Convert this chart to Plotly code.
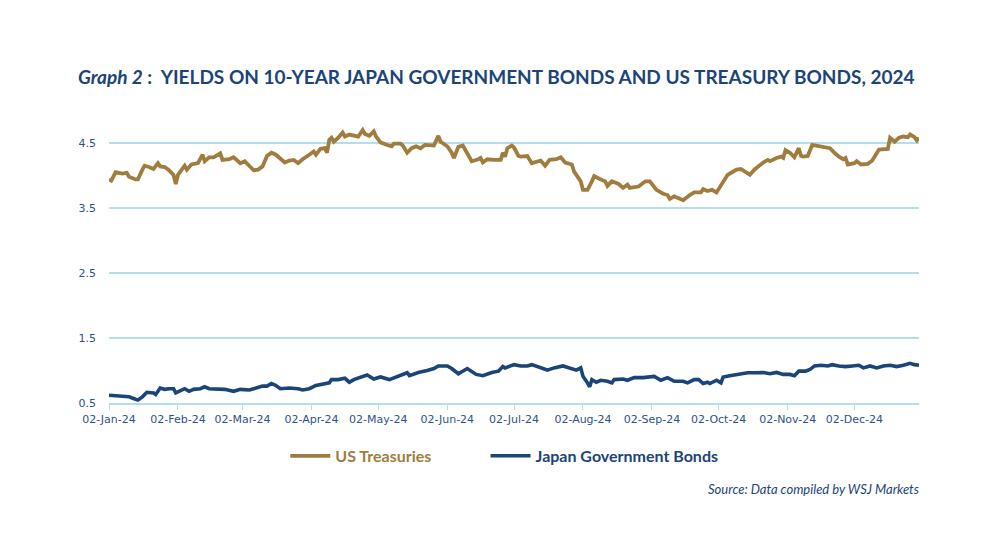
import plotly.graph_objects as go

# ---------------- data ----------------
us_dates = [
    "2024-01-02","2024-01-03","2024-01-05","2024-01-08","2024-01-10","2024-01-11","2024-01-14","2024-01-15",
    "2024-01-17","2024-01-18","2024-01-20","2024-01-22","2024-01-24","2024-01-25","2024-01-27","2024-01-29",
    "2024-01-31","2024-02-01","2024-02-02","2024-02-05","2024-02-06","2024-02-08","2024-02-11","2024-02-13",
    "2024-02-14","2024-02-16","2024-02-18","2024-02-21","2024-02-22","2024-02-25","2024-02-27","2024-03-01",
    "2024-03-03","2024-03-05","2024-03-07","2024-03-09","2024-03-11","2024-03-13","2024-03-15","2024-03-17",
    "2024-03-21","2024-03-23","2024-03-25","2024-03-27","2024-03-29","2024-04-01","2024-04-03","2024-04-04",
    "2024-04-06","2024-04-08","2024-04-09","2024-04-10","2024-04-11","2024-04-12","2024-04-14","2024-04-16",
    "2024-04-17","2024-04-19","2024-04-23","2024-04-25","2024-04-26","2024-04-28","2024-04-30","2024-05-01",
    "2024-05-03","2024-05-06","2024-05-08","2024-05-09","2024-05-12","2024-05-13","2024-05-15","2024-05-17",
    "2024-05-19","2024-05-21","2024-05-23","2024-05-27","2024-05-29","2024-05-30","2024-06-02","2024-06-04",
    "2024-06-05","2024-06-07","2024-06-09","2024-06-10","2024-06-13","2024-06-16","2024-06-17","2024-06-18",
    "2024-06-20","2024-06-23","2024-06-26","2024-06-27","2024-06-28","2024-06-29","2024-07-01","2024-07-02",
    "2024-07-04","2024-07-05","2024-07-08","2024-07-10","2024-07-11","2024-07-14","2024-07-16","2024-07-18",
    "2024-07-21","2024-07-23","2024-07-25","2024-07-28","2024-07-29","2024-08-01","2024-08-02","2024-08-04",
    "2024-08-06","2024-08-07","2024-08-10","2024-08-12","2024-08-13","2024-08-15","2024-08-18","2024-08-20",
    "2024-08-22","2024-08-23","2024-08-27","2024-08-30","2024-09-01","2024-09-04","2024-09-07","2024-09-09",
    "2024-09-10","2024-09-12","2024-09-14","2024-09-16","2024-09-19","2024-09-21","2024-09-24","2024-09-25",
    "2024-09-27","2024-09-29","2024-10-01","2024-10-04","2024-10-06","2024-10-08","2024-10-10","2024-10-12",
    "2024-10-14","2024-10-16","2024-10-18","2024-10-19","2024-10-22","2024-10-24","2024-10-25","2024-10-28",
    "2024-10-30","2024-10-31","2024-11-01","2024-11-03","2024-11-05","2024-11-07","2024-11-08","2024-11-09",
    "2024-11-11","2024-11-13","2024-11-15","2024-11-18","2024-11-21","2024-11-23","2024-11-25","2024-11-27",
    "2024-11-28","2024-11-29","2024-12-02","2024-12-03","2024-12-05","2024-12-08","2024-12-10","2024-12-13",
    "2024-12-15","2024-12-17","2024-12-18","2024-12-20","2024-12-22","2024-12-24","2024-12-26","2024-12-27",
    "2024-12-29","2024-12-30","2024-12-31",
]
us_yields = [
    3.94,3.92,4.05,4.03,4.04,3.98,3.94,3.94,
    4.09,4.15,4.13,4.10,4.19,4.14,4.13,4.08,
    4.01,3.87,4.01,4.15,4.09,4.17,4.19,4.32,
    4.22,4.28,4.28,4.34,4.24,4.25,4.28,4.19,
    4.22,4.14,4.08,4.09,4.14,4.30,4.35,4.32,
    4.20,4.23,4.24,4.19,4.25,4.32,4.37,4.32,
    4.41,4.42,4.35,4.55,4.58,4.52,4.58,4.66,
    4.60,4.63,4.60,4.70,4.64,4.61,4.68,4.60,
    4.51,4.47,4.45,4.49,4.49,4.46,4.35,4.42,
    4.45,4.42,4.47,4.46,4.61,4.52,4.45,4.35,
    4.27,4.44,4.46,4.40,4.22,4.25,4.27,4.20,
    4.25,4.24,4.24,4.35,4.29,4.42,4.46,4.43,
    4.30,4.29,4.30,4.19,4.20,4.23,4.15,4.24,
    4.25,4.28,4.20,4.17,4.06,3.91,3.78,3.78,
    3.91,3.99,3.94,3.91,3.84,3.91,3.87,3.81,
    3.86,3.81,3.83,3.91,3.91,3.78,3.72,3.70,
    3.64,3.68,3.65,3.62,3.70,3.74,3.74,3.79,
    3.76,3.78,3.74,3.91,4.01,4.05,4.09,4.10,
    4.06,4.01,4.09,4.12,4.20,4.24,4.22,4.27,
    4.29,4.27,4.39,4.35,4.28,4.42,4.30,4.29,
    4.30,4.47,4.46,4.44,4.42,4.35,4.29,4.25,
    4.27,4.17,4.19,4.22,4.17,4.18,4.23,4.40,
    4.41,4.41,4.58,4.52,4.58,4.60,4.59,4.63,
    4.59,4.54,4.58,
]

jgb_dates = [
    "2024-01-02","2024-01-04","2024-01-08","2024-01-11","2024-01-13","2024-01-15","2024-01-17","2024-01-19",
    "2024-01-22","2024-01-23","2024-01-25","2024-01-27","2024-01-29","2024-01-31","2024-02-01","2024-02-03",
    "2024-02-05","2024-02-07","2024-02-09","2024-02-12","2024-02-14","2024-02-16","2024-02-20","2024-02-23",
    "2024-02-27","2024-03-01","2024-03-05","2024-03-08","2024-03-11","2024-03-13","2024-03-15","2024-03-17",
    "2024-03-19","2024-03-23","2024-03-27","2024-03-29","2024-04-01","2024-04-04","2024-04-07","2024-04-10",
    "2024-04-11","2024-04-14","2024-04-17","2024-04-19","2024-04-21","2024-04-24","2024-04-27","2024-04-30",
    "2024-05-03","2024-05-07","2024-05-11","2024-05-15","2024-05-16","2024-05-20","2024-05-24","2024-05-27",
    "2024-05-29","2024-06-02","2024-06-04","2024-06-07","2024-06-11","2024-06-15","2024-06-18","2024-06-20",
    "2024-06-22","2024-06-25","2024-06-27","2024-06-28","2024-07-02","2024-07-05","2024-07-08","2024-07-10",
    "2024-07-12","2024-07-15","2024-07-17","2024-07-20","2024-07-24","2024-07-27","2024-07-30","2024-08-01",
    "2024-08-02","2024-08-04","2024-08-05","2024-08-06","2024-08-08","2024-08-10","2024-08-13","2024-08-15",
    "2024-08-16","2024-08-20","2024-08-22","2024-08-25","2024-08-29","2024-09-03","2024-09-06","2024-09-09",
    "2024-09-12","2024-09-16","2024-09-18","2024-09-21","2024-09-23","2024-09-25","2024-09-27","2024-09-28",
    "2024-10-01","2024-10-03","2024-10-04","2024-10-07","2024-10-10","2024-10-12","2024-10-15","2024-10-18",
    "2024-10-22","2024-10-25","2024-10-28","2024-10-31","2024-11-03","2024-11-05","2024-11-07","2024-11-10",
    "2024-11-12","2024-11-14","2024-11-17","2024-11-20","2024-11-22","2024-11-25","2024-11-28","2024-12-01",
    "2024-12-04","2024-12-06","2024-12-09","2024-12-12","2024-12-15","2024-12-18","2024-12-21","2024-12-24",
    "2024-12-27","2024-12-29","2024-12-31",
]
jgb_yields = [
    0.62,0.615,0.595,0.595,0.57,0.545,0.595,0.665,
    0.655,0.63,0.73,0.71,0.72,0.72,0.655,0.69,
    0.72,0.68,0.71,0.72,0.75,0.72,0.72,0.71,
    0.68,0.71,0.70,0.73,0.76,0.76,0.80,0.77,
    0.72,0.73,0.72,0.70,0.72,0.77,0.785,0.81,
    0.86,0.86,0.88,0.82,0.86,0.89,0.93,0.87,
    0.90,0.86,0.92,0.965,0.92,0.97,1.00,1.03,
    1.07,1.07,1.03,0.95,1.03,0.94,0.92,0.95,
    0.97,0.99,1.06,1.04,1.09,1.07,1.07,1.09,
    1.06,1.03,1.005,1.04,1.07,1.04,1.005,1.04,
    0.91,0.81,0.75,0.86,0.82,0.85,0.835,0.81,
    0.86,0.87,0.85,0.89,0.89,0.91,0.85,0.89,
    0.835,0.835,0.81,0.86,0.86,0.80,0.82,0.80,
    0.85,0.81,0.90,0.92,0.94,0.95,0.965,0.965,
    0.97,0.95,0.97,0.94,0.94,0.92,0.99,0.99,
    1.015,1.07,1.08,1.07,1.09,1.07,1.06,1.07,
    1.08,1.04,1.07,1.04,1.07,1.08,1.06,1.08,
    1.11,1.09,1.08,
]

series_names = ["US Treasuries", "Japan Government Bonds"]
y_ticks = [0.5, 1.5, 2.5, 3.5, 4.5]
y_tick_labels = ["0.5", "1.5", "2.5", "3.5", "4.5"]
x_ticks = ["2024-01-02","2024-02-02","2024-03-02","2024-04-02","2024-05-02","2024-06-02",
           "2024-07-02","2024-08-02","2024-09-02","2024-10-02","2024-11-02","2024-12-02"]
x_tick_labels = ["02-Jan-24","02-Feb-24","02-Mar-24","02-Apr-24","02-May-24","02-Jun-24",
                 "02-Jul-24","02-Aug-24","02-Sep-24","02-Oct-24","02-Nov-24","02-Dec-24"]

# ---------------- style ----------------
GOLD = "#a07d3f"
NAVY = "#1b4478"
GRID = "#b3dfec"
TICK = "#2d5289"
FONT = "Lato"
PAD = "&nbsp;" * 12

fig = go.Figure()
fig.add_trace(go.Scatter(
    x=us_dates, y=us_yields, mode="lines",
    name=f"<span style='color:{GOLD}'><b>{series_names[0]}</b></span>{PAD}",
    line=dict(color=GOLD, width=3.8),
))
fig.add_trace(go.Scatter(
    x=jgb_dates, y=jgb_yields, mode="lines",
    name=f"<span style='color:{NAVY}'><b>{series_names[1]}</b></span>",
    line=dict(color=NAVY, width=3.6),
))

fig.update_layout(
    width=1000, height=533,
    paper_bgcolor="white", plot_bgcolor="white",
    margin=dict(l=109, r=81, t=117, b=130),
    font=dict(family=FONT, color=NAVY),
    title=dict(
        text="<b><i>Graph 2</i> :  YIELDS ON 10-YEAR JAPAN GOVERNMENT BONDS AND US TREASURY BONDS, 2024</b>",
        x=0.078, xanchor="left", xref="container",
        y=1 - 77 / 533, yanchor="middle", yref="container",
        font=dict(family=FONT, size=19, color=NAVY),
    ),
    showlegend=True,
    legend=dict(
        orientation="h", x=0.488, xanchor="center", y=-0.185, yanchor="middle",
        font=dict(family=FONT, size=16, color=NAVY),
        bgcolor="rgba(0,0,0,0)", itemwidth=40,
        traceorder="normal",
    ),
    xaxis=dict(
        type="date",
        range=["2024-01-02", "2024-12-31"],
        tickvals=x_ticks, ticktext=x_tick_labels,
        showgrid=False, zeroline=False,
        showline=True, linecolor=GRID, linewidth=1.5,
        ticks="outside", ticklen=5, tickcolor=GRID, tickwidth=1,
        tickfont=dict(family="DejaVu Sans", size=11, color=TICK),
    ),
    yaxis=dict(
        range=[0.5, 4.9],
        tickvals=y_ticks, ticktext=y_tick_labels,
        showgrid=True, gridcolor=GRID, gridwidth=1.5,
        zeroline=False, showline=False, ticks="",
        ticklabelstandoff=12,
        tickfont=dict(family="DejaVu Sans", size=11, color=TICK),
    ),
    annotations=[dict(
        text="<i>Source: Data compiled by WSJ Markets</i>",
        xref="paper", yref="paper", x=1.003, y=-0.3, xanchor="right", yanchor="middle",
        showarrow=False, font=dict(family=FONT, size=13, color=NAVY),
    )],
)

fig.write_html("out.html")
